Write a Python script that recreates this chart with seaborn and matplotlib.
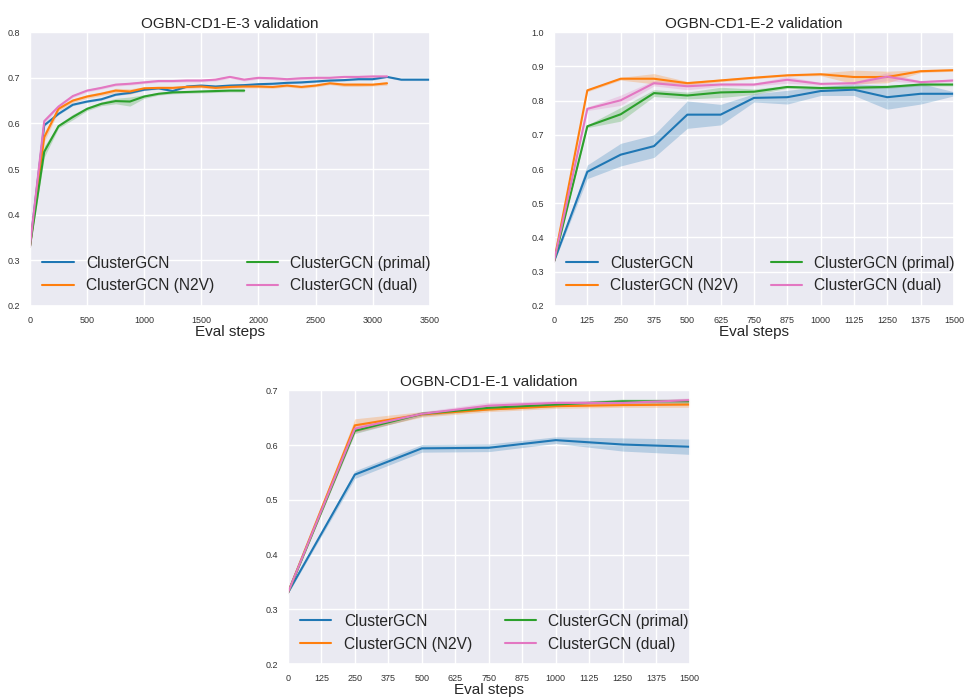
import numpy as np
import pandas as pd
import matplotlib
matplotlib.use("Agg")
import matplotlib.pyplot as plt
import seaborn as sns

sns.set_theme(style="darkgrid")
plt.rcParams['font.family'] = ['Liberation Sans', 'DejaVu Sans']

models = ["ClusterGCN", "ClusterGCN (N2V)", "ClusterGCN (primal)", "ClusterGCN (dual)"]
colors = ["#1f77b4", "#ff7f0e", "#2ca02c", "#e377c2"]

# ---- OGBN-CD1-E-3 (steps of 125) ----
e3_blue = [0.33, 0.596, 0.621, 0.641, 0.648, 0.653, 0.663, 0.667, 0.674, 0.677, 0.671, 0.681,
           0.683, 0.681, 0.683, 0.684, 0.686, 0.687, 0.689, 0.690, 0.692, 0.694, 0.695, 0.697,
           0.697, 0.702, 0.696, 0.696, 0.696]
e3_orange = [0.33, 0.570, 0.632, 0.650, 0.659, 0.665, 0.672, 0.670, 0.677, 0.678, 0.678, 0.680,
             0.681, 0.678, 0.680, 0.681, 0.681, 0.680, 0.683, 0.680, 0.683, 0.688, 0.685, 0.685,
             0.685, 0.688]
e3_green = [0.33, 0.538, 0.594, 0.614, 0.632, 0.643, 0.649, 0.648, 0.659, 0.665, 0.668, 0.669,
            0.670, 0.671, 0.672, 0.672]
e3_pink = [0.33, 0.605, 0.637, 0.660, 0.672, 0.678, 0.685, 0.687, 0.690, 0.693, 0.693, 0.694,
           0.694, 0.696, 0.702, 0.696, 0.700, 0.699, 0.697, 0.699, 0.700, 0.700, 0.702, 0.702,
           0.703, 0.703]
e3_blue_err = [0.002] * 29
e3_orange_err = [0.002, 0.01, 0.005, 0.004, 0.004, 0.004, 0.005, 0.006, 0.003, 0.003, 0.003, 0.003,
                 0.003, 0.003, 0.003, 0.003, 0.003, 0.003, 0.003, 0.003, 0.003, 0.003, 0.004, 0.004,
                 0.003, 0.004]
e3_green_err = [0.002, 0.012, 0.004, 0.006, 0.004, 0.004, 0.006, 0.010, 0.004, 0.003, 0.003, 0.003,
                0.003, 0.003, 0.003, 0.003]
e3_pink_err = [0.002, 0.005, 0.003, 0.003, 0.003, 0.003, 0.003, 0.003, 0.003, 0.003, 0.003, 0.003,
               0.003, 0.003, 0.003, 0.003, 0.003, 0.003, 0.003, 0.003, 0.003, 0.003, 0.003, 0.003,
               0.003, 0.003]

# ---- OGBN-CD1-E-2 (steps of 125) ----
e2_blue = [0.33, 0.592, 0.642, 0.667, 0.759, 0.759, 0.808, 0.810, 0.828, 0.832, 0.810, 0.820, 0.820]
e2_orange = [0.33, 0.830, 0.864, 0.864, 0.851, 0.859, 0.867, 0.874, 0.877, 0.869, 0.869, 0.886, 0.889]
e2_green = [0.33, 0.725, 0.760, 0.822, 0.815, 0.824, 0.826, 0.840, 0.837, 0.838, 0.840, 0.847, 0.847]
e2_pink = [0.33, 0.776, 0.801, 0.851, 0.842, 0.847, 0.847, 0.861, 0.849, 0.851, 0.870, 0.854, 0.859]
e2_blue_err = [0.003, 0.02, 0.033, 0.033, 0.04, 0.03, 0.012, 0.02, 0.013, 0.017, 0.035, 0.03, 0.006]
e2_orange_err = [0.003, 0.004, 0.004, 0.015, 0.005, 0.004, 0.003, 0.003, 0.004, 0.02, 0.017, 0.004, 0.003]
e2_green_err = [0.003, 0.004, 0.02, 0.01, 0.01, 0.015, 0.008, 0.004, 0.004, 0.004, 0.004, 0.004, 0.004]
e2_pink_err = [0.003, 0.005, 0.015, 0.008, 0.01, 0.005, 0.004, 0.01, 0.004, 0.004, 0.012, 0.004, 0.004]

# ---- OGBN-CD1-E-1 (steps of 250) ----
e1_blue = [0.33, 0.546, 0.594, 0.595, 0.609, 0.601, 0.597]
e1_orange = [0.33, 0.636, 0.656, 0.665, 0.671, 0.673, 0.674]
e1_green = [0.33, 0.626, 0.657, 0.668, 0.674, 0.680, 0.680]
e1_pink = [0.33, 0.630, 0.657, 0.672, 0.677, 0.677, 0.682]
e1_blue_err = [0.002, 0.007, 0.007, 0.007, 0.006, 0.012, 0.014]
e1_orange_err = [0.002, 0.012, 0.005, 0.004, 0.004, 0.004, 0.005]
e1_green_err = [0.002, 0.005, 0.004, 0.004, 0.004, 0.004, 0.004]
e1_pink_err = [0.002, 0.008, 0.004, 0.006, 0.004, 0.004, 0.004]


def make_df(series, step):
    rows = []
    for name, vals, errs in series:
        for i, (v, e) in enumerate(zip(vals, errs)):
            rows.append({"step": i * step, "acc": v, "err": e, "model": name})
    return pd.DataFrame(rows)


panels = [
    ("OGBN-CD1-E-3 validation", 125,
     [(models[0], e3_blue, e3_blue_err), (models[1], e3_orange, e3_orange_err),
      (models[2], e3_green, e3_green_err), (models[3], e3_pink, e3_pink_err)],
     (0, 3500), np.arange(0, 3501, 500), (0.2, 0.8), np.arange(0.2, 0.81, 0.1),
     [0.031, 0.563, 0.414, 0.391]),
    ("OGBN-CD1-E-2 validation", 125,
     [(models[0], e2_blue, e2_blue_err), (models[1], e2_orange, e2_orange_err),
      (models[2], e2_green, e2_green_err), (models[3], e2_pink, e2_pink_err)],
     (0, 1500), np.arange(0, 1501, 125), (0.2, 1.0), np.arange(0.2, 1.01, 0.1),
     [0.5735, 0.563, 0.414, 0.391]),
    ("OGBN-CD1-E-1 validation", 250,
     [(models[0], e1_blue, e1_blue_err), (models[1], e1_orange, e1_orange_err),
      (models[2], e1_green, e1_green_err), (models[3], e1_pink, e1_pink_err)],
     (0, 1500), np.arange(0, 1501, 125), (0.2, 0.7), np.arange(0.2, 0.71, 0.1),
     [0.298, 0.0514, 0.416, 0.391]),
]

fig = plt.figure(figsize=(9.66, 7), dpi=100)

for title, step, series, xlim, xt, ylim, yt, pos in panels:
    ax = fig.add_axes(pos)
    df = make_df(series, step)
    sns.lineplot(data=df, x="step", y="acc", hue="model", hue_order=models,
                 palette=colors, errorbar=None, linewidth=1.5, ax=ax)
    for name, c in zip(models, colors):
        d = df[df["model"] == name]
        ax.fill_between(d["step"], d["acc"] - d["err"], d["acc"] + d["err"],
                        color=c, alpha=0.25, linewidth=0)
    ax.set_xlim(*xlim)
    ax.set_ylim(*ylim)
    ax.set_xticks(xt)
    ax.set_yticks(yt)
    ax.set_xticklabels([str(int(v)) for v in xt])
    ax.set_yticklabels([f"{v:.1f}" for v in yt])
    ax.tick_params(labelsize=6.5, pad=1, colors="#333333")
    ax.set_title(title, fontsize=11, pad=3)
    ax.set_xlabel("Eval steps", fontsize=11, labelpad=0)
    ax.set_ylabel("")
    ax.legend(ncol=2, loc="lower left", fontsize=11.2, frameon=False,
              handlelength=2.0, handletextpad=0.8, columnspacing=2.1,
              borderaxespad=0.4, labelspacing=0.5)

fig.savefig("out.png", dpi=100)
